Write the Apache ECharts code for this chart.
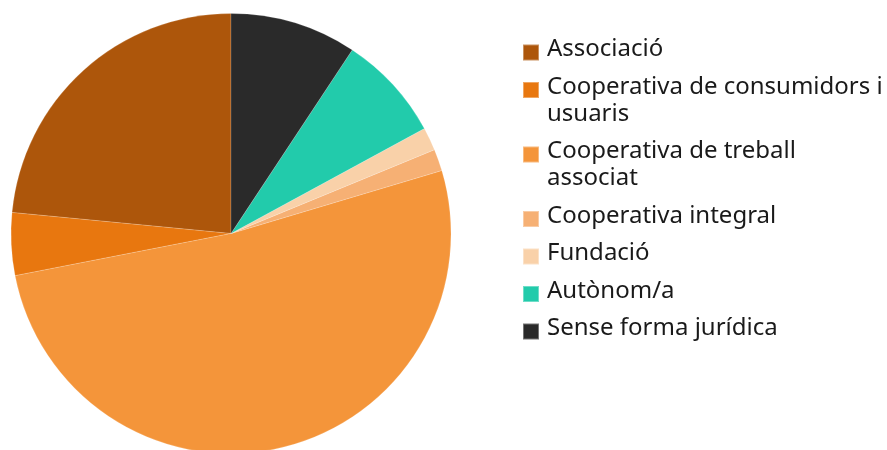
<!DOCTYPE html>
<html>
<head>
<meta charset="utf-8">
<script src="https://cdn.jsdelivr.net/npm/echarts@6/dist/echarts.min.js"></script>
<style>
  html, body { margin: 0; padding: 0; background: #fff; }
  #chart { width: 887px; height: 450px; }
</style>
</head>
<body>
<div id="chart"></div>
<script>
var myChart = echarts.init(document.getElementById('chart'));

// categories, in legend order
var categories = [
    'Associació',
    'Cooperativa de consumidors i usuaris',
    'Cooperativa de treball associat',
    'Cooperativa integral',
    'Fundació',
    'Autònom/a',
    'Sense forma jurídica'
];
// how the legend wraps them
var legendLabels = [
    'Associació',
    'Cooperativa de consumidors i\nusuaris',
    'Cooperativa de treball\nassociat',
    'Cooperativa integral',
    'Fundació',
    'Autònom/a',
    'Sense forma jurídica'
];
// share in percent
var values = [23.5, 4.6, 51.6, 1.6, 1.7, 7.8, 9.3];
var colors = ['#ad560b', '#e8770f', '#f4953a', '#f6b074', '#f9d1a9', '#22cbab', '#2a2a2a'];

var pieData = categories.map(function (name, i) {
    return {name: name, value: values[i]};
});

// square swatch sitting 3px below the text middle (thin sliver on top sets the box)
var swatch = 'path://M0,0h16v0.01h-16Z M0,6h16v16h-16Z';

// one legend block per entry so the swatch lines up with the first text line
var lineH = 27;
var rowStep = 37.5;
var firstText = 49.5;
var legends = [];
var extraLines = 0;
categories.forEach(function (name, i) {
    var c = firstText + rowStep * i + lineH * extraLines;
    var more = legendLabels[i].split('\n').length - 1;
    legends.push({
        orient: 'vertical',
        left: 522,
        top: c - lineH / 2 - more * lineH,
        padding: 0,
        itemWidth: 16,
        itemHeight: 22,
        icon: swatch,
        data: [name],
        textStyle: {
            fontFamily: 'Noto Sans',
            fontSize: 24,
            lineHeight: lineH,
            padding: [0, 0, 0, 3],
            color: '#1a1a1a'
        },
        formatter: function (n) {
            var label = legendLabels[categories.indexOf(n)];
            // blank lines on top keep the first line level with the swatch
            var pad = new Array(label.split('\n').length).join('\n');
            return pad + label;
        }
    });
    extraLines += more;
});

var option = {
    animation: false,
    color: colors,
    legend: legends,
    series: [{
        type: 'pie',
        center: [231, 233.5],
        radius: 220,
        startAngle: 90,
        clockwise: false,
        label: {show: false},
        labelLine: {show: false},
        itemStyle: {
            borderColor: 'rgba(255,255,255,0.35)',
            borderWidth: 0.5
        },
        data: pieData
    }]
};

myChart.setOption(option);
</script>
</body>
</html>
